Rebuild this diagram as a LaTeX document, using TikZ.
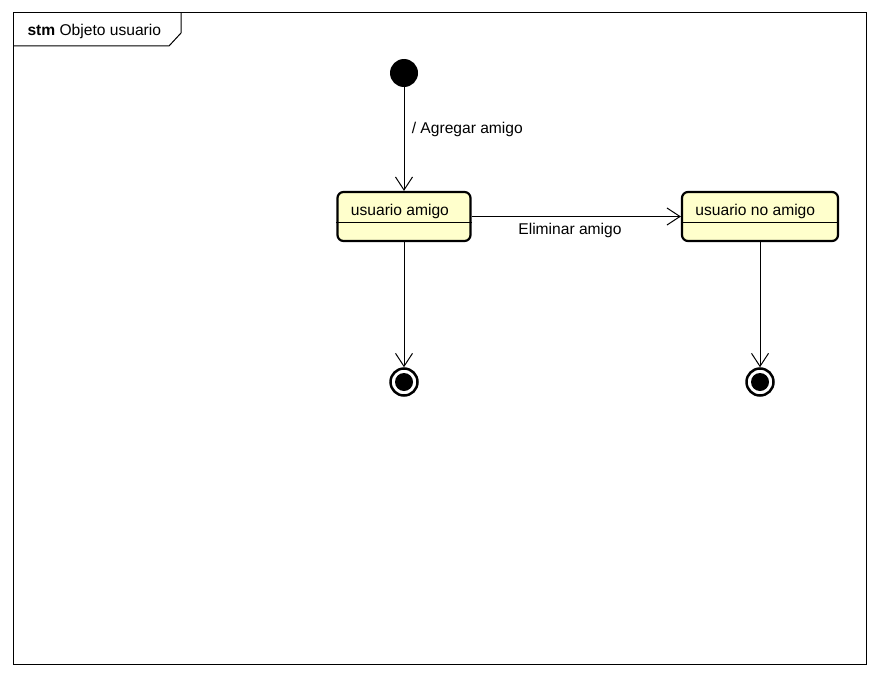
\documentclass[tikz,border=0pt]{standalone}
\usepackage{fontspec}
\setmainfont{Liberation Sans}
\usetikzlibrary{arrows.meta}
\definecolor{statefill}{RGB}{255,255,204}

\begin{document}
\begin{tikzpicture}[x=1pt,y=-1pt,
    font=\fontsize{15.6}{18}\selectfont,
    trans/.style={draw, line width=1pt, -{Straight Barb[length=13pt,width=17pt,line width=1pt]}},
    state/.style={draw, line width=2.2pt, rounded corners=6pt, fill=statefill, minimum height=49pt, inner sep=0pt},
    initial/.style={circle, fill=black, minimum size=28pt, inner sep=0pt},
    final/.style={circle, draw, line width=2.5pt, fill=white, minimum size=27pt, inner sep=0pt,
        path picture={\fill[black] (path picture bounding box.center) circle (9pt);}}]
   \useasboundingbox (0,0) rectangle (880,677);
   % frame
   \draw[line width=1pt] (13,13) rectangle (866,664);
   \draw[line width=1pt] (13,46) -- (169,46) -- (181,33) -- (181,13);
   \node[anchor=west] (title) at (24,31) {\textbf{stm} Objeto usuario};
   % states
   \node[initial] (ini) at (404,73) {};
   \node[state, minimum width=133pt] (amigo) at (404,216.5) {};
   \node[anchor=west] (amigotxt) at ([xshift=11pt,yshift=5.5pt]amigo.west) {usuario amigo};
   \draw[line width=1pt] ([yshift=-5.5pt]amigo.west) -- ([yshift=-5.5pt]amigo.east);
   \node[state, minimum width=156pt] (noamigo) at (760,216.5) {};
   \node[anchor=west] (noamigotxt) at ([xshift=11pt,yshift=5.5pt]noamigo.west) {usuario no amigo};
   \draw[line width=1pt] ([yshift=-5.5pt]noamigo.west) -- ([yshift=-5.5pt]noamigo.east);
   \node[final] (fin1) at (404,382) {};
   \node[final] (fin2) at (760,382) {};
   % transitions
   \draw[trans] (ini) -- node[pos=0.41, right=4pt] {/ Agregar amigo} (amigo);
   \draw[trans] (amigo) -- node[pos=0.47, below=3pt] {Eliminar amigo} (noamigo);
   \draw[trans] (amigo) -- (fin1);
   \draw[trans] (noamigo) -- (fin2);
\end{tikzpicture}
\end{document}
